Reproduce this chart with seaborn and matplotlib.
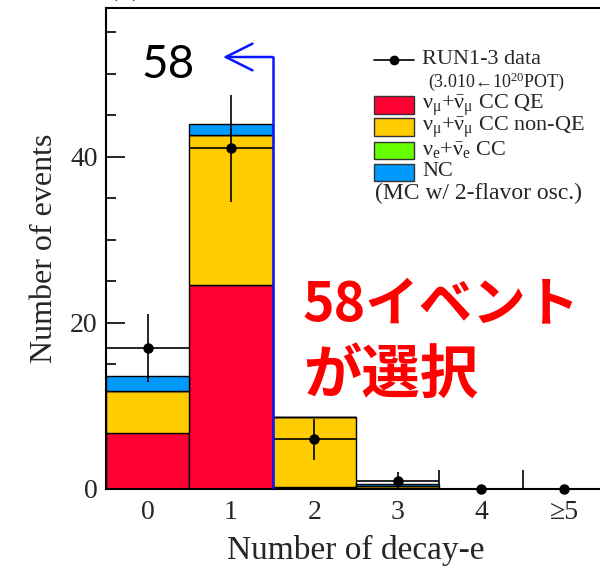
import numpy as np
import pandas as pd
import matplotlib
matplotlib.use("Agg")
import matplotlib.pyplot as plt
from matplotlib.patches import Rectangle
from matplotlib.lines import Line2D
import seaborn as sns

# ---------------- data ----------------
bins = [0, 1, 2, 3, 4, 5]
tick_labels = ["0", "1", "2", "3", "4", "\u22655"]
cc_qe = [6.8, 24.5, 0.3, 0.05, 0.0, 0.0]
cc_nonqe = [5.0, 18.1, 8.4, 0.3, 0.0, 0.0]
nue_cc = [0.0, 0.0, 0.0, 0.0, 0.0, 0.0]
nc = [1.8, 1.35, 0.0, 0.3, 0.0, 0.0]
data_counts = [17, 41, 6, 1, 0, 0]
components = ["CC QE", "CC non-QE", "nue CC", "NC"]
colors = {"CC QE": "#ff0033", "CC non-QE": "#ffcc00", "nue CC": "#66ff00", "NC": "#0099ff"}
legend_labels = [
    r"$\mathrm{\nu_{\mu}{+}\bar{\nu}_{\mu}}$ CC QE",
    r"$\mathrm{\nu_{\mu}{+}\bar{\nu}_{\mu}}$ CC non-QE",
    r"$\mathrm{\nu_{e}{+}\bar{\nu}_{e}}$ CC",
    "NC",
]

rows = []
for comp, vals in zip(components, [cc_qe, cc_nonqe, nue_cc, nc]):
    for b, v in zip(bins, vals):
        rows.append({"bin": b, "component": comp, "count": v})
df = pd.DataFrame(rows)

# ---------------- figure ----------------
sns.set_theme(style="white")
plt.rcParams["font.family"] = ["Liberation Serif", "DejaVu Serif"]
plt.rcParams["mathtext.fontset"] = "custom"
plt.rcParams["mathtext.rm"] = "Liberation Serif"
plt.rcParams["mathtext.it"] = "Liberation Serif:italic"
plt.rcParams["mathtext.bf"] = "Liberation Serif:bold"

fig = plt.figure(figsize=(6.0, 5.72), dpi=100)
W, H = 600.0, 572.0
L, R, T, B = 106.0, 606.0, 8.0, 489.0
ax = fig.add_axes([L / W, (H - B) / H, (R - L) / W, (B - T) / H])

sns.histplot(
    data=df, x="bin", weights="count", hue="component",
    hue_order=components[::-1], palette=colors, multiple="stack",
    discrete=True, shrink=1.0, edgecolor="black", linewidth=1.0,
    alpha=1.0, legend=False, ax=ax,
)

# data points
ax.errorbar(bins, data_counts, yerr=np.sqrt(data_counts), xerr=0.5,
            fmt="o", color="black", markersize=6.5, elinewidth=1.2,
            capsize=0, zorder=5, clip_on=False)

ax.set_xlim(-0.5, 5.5)
ax.set_ylim(0, 57.9)

# ticks
ax.set_xticks(bins)
ax.set_xticklabels(tick_labels)
ax.set_xticks(np.arange(-0.5, 6.0, 1.0), minor=True)
ax.set_yticks([0, 20, 40])
ax.set_yticks(np.arange(0, 58, 5), minor=True)
ax.tick_params(axis="x", which="major", length=0, labelsize=20, pad=8)
ax.tick_params(axis="x", which="minor", direction="in", length=14, width=1.2,
               color="black", bottom=True)
ax.tick_params(axis="y", which="major", direction="in", length=14, width=1.2,
               color="black", labelsize=20, pad=6, left=True)
ax.tick_params(axis="y", which="minor", direction="in", length=7, width=1.2,
               color="black", left=True)
for s in ax.spines.values():
    s.set_color("black")
    s.set_linewidth(1.5)

ax.set_xlabel("Number of decay-e", fontsize=24, labelpad=7)
ax.set_ylabel("Number of events", fontsize=23, labelpad=8)

# blue selection arrow
ax.plot([1.5, 1.5], [0, 52.0], color="#0a14ff", lw=1.8, zorder=6)
ax.annotate("", xy=(0.904, 52.0), xytext=(1.5, 52.0),
            arrowprops=dict(arrowstyle="->,head_length=1.6,head_width=0.8",
                            color="#0a14ff", lw=1.8, shrinkA=0, shrinkB=0),
            zorder=6)
ax.text(0.244, 51.0, "58", fontsize=33, family=["Lato", "DejaVu Sans"],
        ha="center", va="center", color="black")

# big red annotation
ax.text(1.864, 22.0, "58イベント", fontsize=38.5, color="#ff0000",
        family=["Noto Sans CJK JP", "DejaVu Sans"], weight="bold",
        ha="left", va="center")
ax.text(1.864, 13.6, "が選択", fontsize=42, color="#ff0000",
        family=["Noto Sans CJK JP", "DejaVu Sans"], weight="bold",
        ha="left", va="center")

# legend drawn in axes fraction
def fx(px):
    return (px - L) / (R - L)

def fy(py):
    return (B - py) / (B - T)

tr = ax.transAxes
ax.add_line(Line2D([fx(374), fx(414)], [fy(60), fy(60)], transform=tr,
                   color="black", lw=1.2))
ax.add_line(Line2D([fx(394)], [fy(60)], transform=tr, marker="o",
                   markersize=6, color="black"))
ax.text(fx(422), fy(60), "RUN1-3 data", transform=tr, fontsize=16,
        va="center", ha="left")
ax.text(fx(428), fy(82), r"(3.010←10$^{20}$POT)", transform=tr, fontsize=13,
        va="center", ha="left")
for i, (comp, lab) in enumerate(zip(components, legend_labels)):
    yc = [105, 127, 150, 172][i]
    ax.add_patch(Rectangle((fx(374), fy(yc + 8.5)), fx(414) - fx(374),
                           fy(yc - 8.5) - fy(yc + 8.5), transform=tr,
                           facecolor=colors[comp], edgecolor="#333333", lw=1.0))
    ax.text(fx(422), fy(yc), lab, transform=tr, fontsize=16,
            va="center", ha="left")
ax.text(fx(375), fy(193), "(MC w/ 2-flavor osc.)", transform=tr, fontsize=17,
        va="center", ha="left")

# panel label (mostly cut off at top)
fig.text(L / W, 1 + 6 / H, "(a)", fontsize=24, ha="left", va="baseline")

fig.savefig("out.png", dpi=100)
